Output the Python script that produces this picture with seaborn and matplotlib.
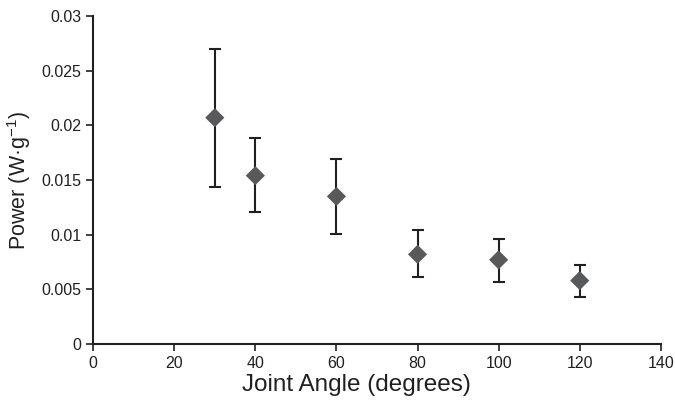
import numpy as np
import pandas as pd
import seaborn as sns
import matplotlib.pyplot as plt

# Values
angle = [30, 40, 60, 80, 100, 120]
power = [0.0207, 0.0154, 0.0135, 0.0082, 0.0077, 0.0058]
upper = [0.0270, 0.0188, 0.0169, 0.0104, 0.0096, 0.0072]
lower = [0.0144, 0.0121, 0.0101, 0.0061, 0.0057, 0.0043]

df = pd.DataFrame({'angle': angle, 'power': power, 'upper': upper, 'lower': lower})

sns.set_style('ticks')
plt.rcParams['font.family'] = ['Liberation Sans', 'DejaVu Sans']

fig = plt.figure(figsize=(6.75, 4), dpi=100)
ax = fig.add_axes([0.138, 0.14, 0.841, 0.82])

# Error bars
ax.errorbar(df['angle'], df['power'],
            yerr=[df['power'] - df['lower'], df['upper'] - df['power']],
            fmt='none', ecolor='#231f20', elinewidth=1.5, capsize=4, capthick=1.5, zorder=2)

# Diamond markers
sns.scatterplot(data=df, x='angle', y='power', marker='D', s=95, color='#58595b',
                edgecolor='none', ax=ax, zorder=3)

ax.set_xlim(0, 140)
ax.set_ylim(0, 0.03)
ax.set_xticks(range(0, 141, 20))
ax.set_yticks([0, 0.005, 0.01, 0.015, 0.02, 0.025, 0.03])
ax.set_yticklabels(['0', '0.005', '0.01', '0.015', '0.02', '0.025', '0.03'])
ax.set_xlabel('Joint Angle (degrees)', fontsize=17.5, color='#231f20')
ax.set_ylabel('Power (W·g$^{\\mathregular{-1}}$)', fontsize=15.5, color='#231f20')
ax.xaxis.set_label_coords(0.463, -0.09)
ax.yaxis.set_label_coords(-0.106, 0.5)
ax.tick_params(axis='both', labelsize=11.5, colors='#231f20', length=5, width=1.2, direction='out')
for s in ['left', 'bottom']:
    ax.spines[s].set_color('#231f20')
    ax.spines[s].set_linewidth(1.5)
sns.despine(ax=ax)

fig.savefig('out.png', dpi=100)
